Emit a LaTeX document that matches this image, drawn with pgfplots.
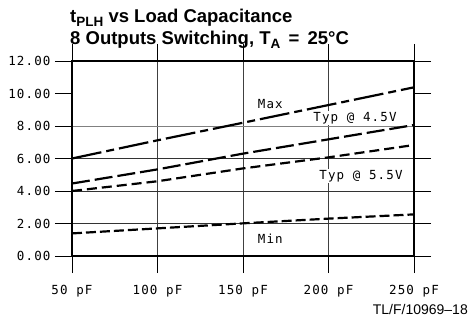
\documentclass[border=0pt]{standalone}
\usepackage{pgfplots}
\pgfplotsset{compat=1.18}
\usepackage{fontspec}
\setmainfont{Liberation Sans}
\newfontfamily\monof[LetterSpace=9]{DejaVu Sans Mono}
\begin{document}
\begin{tikzpicture}
\useasboundingbox (0,0) rectangle (470bp,327bp);
\begin{axis}[
  at={(72bp,71bp)}, anchor=south west,
  scale only axis, width=342bp, height=195bp,
  xmin=50, xmax=250, ymin=0, ymax=12,
  xtick={50,100,150,200,250},
  xticklabels={50 pF,100 pF,150 pF,200 pF,250 pF},
  ytick={0,2,4,6,8,10,12},
  yticklabels={0.00,2.00,4.00,6.00,8.00,10.00,12.00},
  tick align=outside, major tick length=17bp,
  tick style={line width=0.8bp, black},
  axis line style={line width=1.6bp},
  xmajorgrids, grid style={line width=0.8bp, black!75},
  ticklabel style={font=\monof\fontsize{12.5bp}{14bp}\selectfont},
  xticklabel style={yshift=-9bp},
  yticklabel style={xshift=-1bp},
  every axis plot/.append style={line width=2.2bp, black},
  clip=false,
]
\draw[line width=0.8bp, black!80] (axis cs:50,2) -- (axis cs:250,2);
\draw[line width=0.8bp, black!80] (axis cs:50,4) -- (axis cs:250,4);
\draw[line width=0.8bp, black!80] (axis cs:50,6) -- (axis cs:250,6);
\draw[line width=0.8bp, black!50] (axis cs:50,8) -- (axis cs:250,8);
% Max
\addplot[dash pattern=on 30bp off 5bp on 8bp off 5bp] coordinates {(50,6.0) (100,7.12) (150,8.2) (200,9.29) (250,10.38)};
% Typ @ 4.5V
\addplot[dash pattern=on 18bp off 5bp] coordinates {(50,4.46) (100,5.33) (150,6.3) (200,7.18) (250,8.06)};
% Typ @ 5.5V
\addplot[dash pattern=on 10bp off 5bp] coordinates {(50,4.0) (100,4.6) (150,5.39) (200,6.07) (250,6.83)};
% Min
\addplot[dash pattern=on 10bp off 4bp] coordinates {(50,1.39) (100,1.7) (150,2.01) (200,2.3) (250,2.56)};
\node[font=\monof\fontsize{12.5bp}{14bp}\selectfont, inner sep=1pt] at (axis cs:166,9.35) {Max};
\node[font=\monof\fontsize{12.5bp}{14bp}\selectfont, fill=white, inner sep=1.5pt] at (axis cs:215.5,8.49) {Typ @ 4.5V};
\node[font=\monof\fontsize{12.5bp}{14bp}\selectfont, fill=white, inner sep=1.5pt] at (axis cs:219,4.92) {Typ @ 5.5V};
\node[font=\monof\fontsize{12.5bp}{14bp}\selectfont, inner sep=1pt] at (axis cs:166,1.05) {Min};
\draw[line width=1.6bp] (axis cs:50,0) rectangle (axis cs:250,12);
\end{axis}
\node[anchor=base west, inner sep=0pt, font=\bfseries\fontsize{18.5bp}{20bp}\selectfont] at (70bp,304bp)
  {t\raisebox{-0.35ex}{\fontsize{13.5bp}{14bp}\selectfont PLH} vs Load Capacitance};
\node[anchor=base west, inner sep=0pt, font=\bfseries\fontsize{18.5bp}{20bp}\selectfont] at (70bp,282bp)
  {8 Outputs Switching, T\raisebox{-0.35ex}{\fontsize{13.5bp}{14bp}\selectfont A} \,=\, 25°C};
\node[anchor=base east, inner sep=0pt, font=\fontsize{14bp}{15bp}\selectfont] at (468bp,13bp) {TL/F/10969–18};
\end{tikzpicture}
\end{document}
